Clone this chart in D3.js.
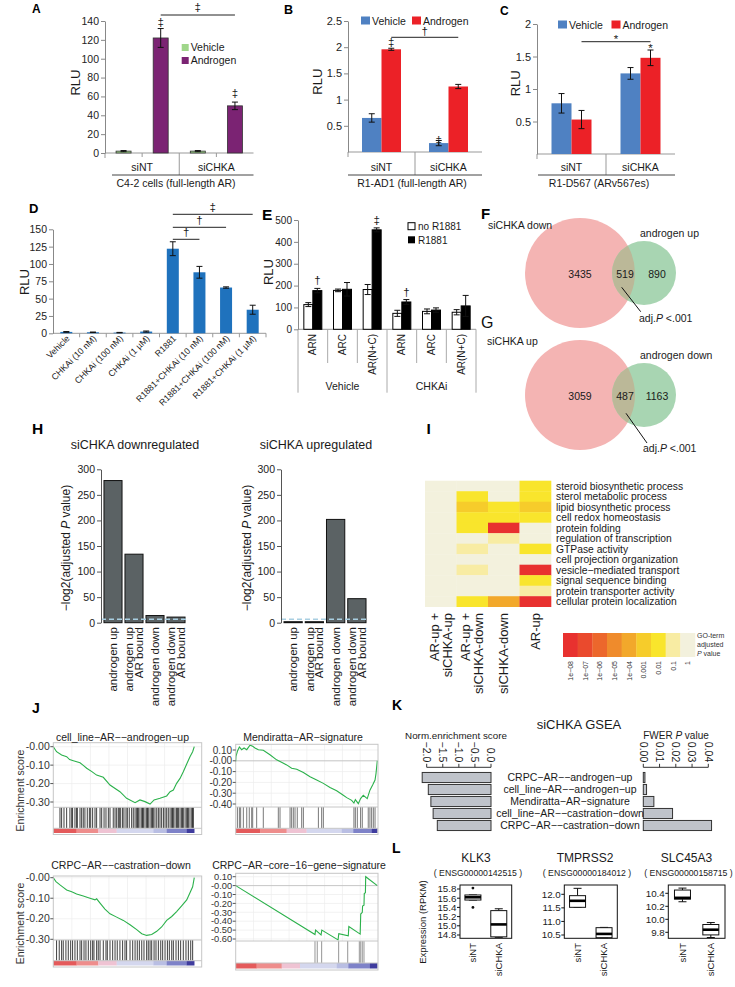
<!DOCTYPE html>
<html><head><meta charset="utf-8">
<script src="https://cdn.jsdelivr.net/npm/d3@7"></script>
<style>
body{margin:0;background:#fff;}
svg{display:block;font-family:"Liberation Sans",Arial,Helvetica,sans-serif;}
</style></head><body>
<svg id="fig" width="735" height="987"></svg>
<script>
// ===================== DATA =====================
// Panel A
const aGroups = ["siNT", "siCHKA"];
const aVehicle = [2, 2];
const aVehicleErr = [0.6, 0.6];
const aAndrogen = [122, 50];
const aAndrogenErr = [10, 4];
const aTicks = [0, 20, 40, 60, 80, 100, 120, 140];
// Panel B
const bGroups = ["siNT", "siCHKA"];
const bVehicle = [0.65, 0.17];
const bVehicleErr = [0.08, 0.05];
const bAndrogen = [1.96, 1.25];
const bAndrogenErr = [0.02, 0.04];
const bTicks = [0.5, 1, 1.5, 2, 2.5];
// Panel C
const cGroups = ["siNT", "siCHKA"];
const cVehicle = [0.78, 1.24];
const cVehicleErr = [0.15, 0.09];
const cAndrogen = [0.53, 1.48];
const cAndrogenErr = [0.14, 0.12];
const cTicks = [0.5, 1, 1.5, 2];
// Panel D
const dCategories = ["Vehicle", "CHKAi (10 nM)", "CHKAi (100 nM)", "CHKAi (1 µM)", "R1881",
  "R1881+CHKAi (10 nM)", "R1881+CHKAi (100 nM)", "R1881+CHKAi (1 µM)"];
const dValues = [2, 1.5, 1, 2.5, 122, 88, 66, 34];
const dErr = [0.5, 0.3, 0.3, 0.8, 10, 8.5, 1, 6.5];
const dTicks = [0, 25, 50, 75, 100, 125, 150];
// Panel E
const eTreatments = ["Vehicle", "CHKAi"];
const eConstructs = ["ARN", "ARC", "AR(N+C)"];
const eNoR1881 = [113, 178, 182, 73, 82, 78];
const eNoR1881Err = [9, 6, 23, 14, 11, 12];
const eR1881 = [177, 183, 455, 125, 88, 107];
const eR1881Err = [10, 31, 9, 11, 10, 48];
const eTicks = [0, 100, 200, 300, 400, 500];
// Panels F, G (Venn counts)
const vennF = {setA: "siCHKA down", setB: "androgen up", onlyA: 3435, both: 519, onlyB: 890};
const vennG = {setA: "siCHKA up", setB: "androgen down", onlyA: 3059, both: 487, onlyB: 1163};
// Panel H
const hCategories = [["androgen up"], ["androgen up", "AR bound"], ["androgen down"], ["androgen down", "AR bound"]];
const hDown = [278, 134, 14, 11];
const hUp = [0, 0, 202, 47];
const hThreshold = 6.64;
const hTicks = [0, 50, 100, 150, 200, 250, 300];
// Panel I
const iTerms = ["steroid biosynthetic process", "sterol metabolic process", "lipid biosynthetic process",
  "cell redox homeostasis", "protein folding", "regulation of transcription", "GTPase activity",
  "cell projection organization", "vesicle\u2212mediated transport", "signal sequence binding",
  "protein transporter activity", "cellular protein localization"];
const iColumns = [["AR-up +", "siCHKA-up"], ["AR-up +", "siCHKA-down"], ["siCHKA-down"], ["AR-up"]];
const iLevels = ["1e\u221208", "1e\u221207", "1e\u221206", "1e\u221205", "1e\u221204", "0.001", "0.01", "0.1", "1"];
const iMatrix = [ // index into iLevels (adjusted P bin), columns as iColumns
  [8, 8, 8, 6], [8, 6, 8, 6], [8, 5, 6, 5], [8, 6, 6, 6], [8, 6, 0, 8], [8, 8, 7, 8],
  [8, 7, 8, 6], [8, 8, 8, 8], [8, 7, 8, 0], [8, 8, 8, 6], [8, 8, 8, 7], [8, 6, 4, 0]];
// Panel J (rank % , enrichment score)
const jTitles = ["cell_line\u2212AR\u2212\u2212androgen\u2212up", "Mendiratta\u2212AR\u2212signature",
  "CRPC\u2212AR\u2212\u2212castration\u2212down", "CRPC\u2212AR\u2212core\u221216\u2212gene\u2212signature"];
const jCurve1 = [[0,0],[2.2,-0.027],[5.6,-0.045],[9,-0.054],[11,-0.07],[13.5,-0.076],[18,-0.087],[20,-0.1],[22.5,-0.117],[26,-0.135],[29.2,-0.154],[33.7,-0.166],[38.2,-0.208],[44.9,-0.244],[49.4,-0.28],[55.1,-0.304],[58.4,-0.289],[61.8,-0.298],[65.2,-0.311],[67.9,-0.289],[71.9,-0.28],[76.4,-0.267],[78.7,-0.244],[80.9,-0.235],[83.1,-0.199],[85.4,-0.172],[87.6,-0.136],[89.9,-0.094],[92.1,-0.054],[93.9,-0.027],[95,0]];
const jHits1 = [4.5,5.6,7.2,9,11.2,12.4,13,14.6,15.7,16.2,18,19.1,20.2,21.3,22.9,24.3,25.2,26.5,28.1,29.2,31.5,32.6,34.2,35.5,37.1,38.2,40.4,41.6,42.7,43.8,44.5,45.4,46.7,47.6,49,49.9,51.2,52.8,53.9,55.1,56.2,56.8,57.3,58.4,59.6,60.1,60.7,61.8,62.9,63.5,64,65.2,66.3,66.8,67.4,68.5,69.7,70.8,71.9,73,74.2,75.3,76.4,77.5,78.7,79.8,80.3,80.9,82,83.1,83.6,84.3,85.4,86.5,87,87.6,88.8,89.9,90.5,91,92.1,93.3,93.8,94.4];
const jCurve2 = [[0,-0.006],[0.2,0.04],[1.2,0.088],[2.6,0.128],[4.2,0.103],[5.9,0.119],[7.8,0.103],[10.1,0.144],[12,0.134],[13.6,0.119],[16,0.103],[19.5,0.097],[24.2,0.056],[28.9,0.009],[31.3,-0.006],[36,-0.038],[39.5,-0.069],[43.1,-0.078],[47.8,-0.109],[52.5,-0.147],[57.2,-0.178],[61.9,-0.209],[66.6,-0.247],[71.3,-0.278],[76,-0.319],[78.4,-0.341],[81.9,-0.366],[83.5,-0.391],[84.5,-0.359],[86.6,-0.397],[88.2,-0.35],[90.1,-0.319],[92.9,-0.35],[94.8,-0.272],[96.7,-0.225],[98.4,-0.178],[99.1,-0.116],[100,0]];
const jHits2 = [1.2,2.6,3.5,5.4,7.8,9.6,11.3,12,14.8,19.5,30.1,31.3,38.4,39.5,40.7,41.9,43.5,46.6,47.8,58.4,60.7,61.9,83.5,84.5,85.9,88.2,89.4,93.6,94.8,96,97.2,98.4];
const jCurve3 = [[0,0],[1.8,-0.019],[4.5,-0.035],[6.7,-0.047],[9,-0.06],[12.4,-0.068],[15.7,-0.079],[20.2,-0.089],[24.7,-0.1],[28.1,-0.108],[29.2,-0.103],[31.5,-0.124],[34.8,-0.153],[38.2,-0.176],[42.7,-0.192],[47.2,-0.208],[51.7,-0.229],[56.2,-0.253],[59.6,-0.273],[62.9,-0.281],[66.3,-0.277],[69.7,-0.261],[73,-0.24],[76.4,-0.208],[79.8,-0.189],[83.1,-0.165],[86.5,-0.137],[89.9,-0.108],[92.1,-0.073],[93.9,-0.044],[95,0]];
const jHits3 = [2.2,4,5.6,6.7,8.5,10.1,11.7,13,14.6,16.2,18,19.1,20.7,22,23.6,25.2,26.5,27.4,29.2,30.3,31.5,33.7,35.5,36.4,38.2,40,41.6,43.1,44.9,46.7,48.3,49.4,51.7,53.5,55.1,56.6,58,59.6,61.1,62.9,64,65.2,66.3,67.9,69.2,70.8,72.4,73.7,75.3,76.9,78.2,79.8,80.9,82.7,84.3,85.8,87.6,89.4,91,92.6,93.9];
const jCurve4 = [[0,0],[56,-0.55],[56.4,-0.5],[60.3,-0.555],[60.8,-0.5],[72.3,-0.61],[72.8,-0.54],[79.5,-0.565],[79.9,-0.46],[87.9,-0.545],[88.3,-0.32],[89.4,-0.3],[89.6,-0.23],[90.6,-0.22],[90.8,-0.09],[91.6,-0.08],[91.8,0.1],[100,0]];
const jHits4 = [56, 57.6, 60.7, 72.7, 79.1, 87.3, 88.3, 89.4, 90.6];
const jRankBreaks1 = [0, 15.7, 30.3, 42.7, 67.4, 76.4, 89.9, 95];
const jRankBreaks2 = [0, 17.2, 36, 50.1, 74.8, 83, 96, 100];
const jRankBreaks3 = [0, 15.7, 30.3, 42.7, 67.4, 76.4, 89.9, 95];
const jRankBreaks4 = [0, 14.8, 32.5, 45.4, 71.3, 79.5, 94.8, 100];
// Panel K
const kSets = ["CRPC\u2212AR\u2212\u2212androgen\u2212up", "cell_line\u2212AR\u2212\u2212androgen\u2212up",
  "Mendiratta\u2212AR\u2212signature", "cell_line\u2212AR\u2212\u2212castration\u2212down", "CRPC\u2212AR\u2212\u2212castration\u2212down"];
const kNES = [-2.14, -1.95, -1.87, -1.80, -1.67];
const kFWER = [0.001, 0.002, 0.0065, 0.018, 0.042];
const kNESTicks = [-2.0, -1.5, -1.0, -0.5, 0.0];
const kFWERTicks = [0.00, 0.01, 0.02, 0.03, 0.04];
// Panel L (box statistics, RPKM)
const lGenes = ["KLK3", "TMPRSS2", "SLC45A3"];
const lIds = ["( ENSG00000142515 )", "( ENSG00000184012 )", "( ENSG00000158715 )"];
const lGroups = ["siNT", "siCHKA"];
const lStats = [
  [{lo: 15.56, q1: 15.56, med: 15.62, q3: 15.67, hi: 15.67, out: [15.82, 15.40]},
   {lo: 14.75, q1: 14.76, med: 15.03, q3: 15.33, hi: 15.37, out: []}],
  [{lo: 11.52, q1: 11.52, med: 11.76, q3: 11.95, hi: 12.22, out: []},
   {lo: 10.40, q1: 10.40, med: 10.54, q3: 10.77, hi: 10.78, out: []}],
  [{lo: 10.27, q1: 10.31, med: 10.33, q3: 10.45, hi: 10.48, out: []},
   {lo: 9.72, q1: 9.76, med: 9.84, q3: 9.92, hi: 9.95, out: []}]];
const lTicks = [[14.8, 15.0, 15.2, 15.4, 15.6, 15.8], [10.5, 11.0, 11.5, 12.0], [9.8, 10.0, 10.2, 10.4]];

// ===================== DRAWING =====================
const svg = d3.select("#fig");
svg.append("rect").attr("width", 735).attr("height", 987).attr("fill", "#fff");

function txt(g, x, y, s, o = {}) {
  const t = g.append("text").attr("x", x).attr("y", y).text(s)
    .attr("font-size", o.size || 10).attr("fill", o.fill || "#1a1a1a")
    .attr("text-anchor", o.anchor || "start");
  if (o.weight) t.attr("font-weight", o.weight);
  if (o.style) t.attr("font-style", o.style);
  if (o.rotate != null) t.attr("transform", `rotate(${o.rotate},${x},${y})`);
  return t;
}
function line(g, x1, y1, x2, y2, color = "#111", w = 1) {
  return g.append("line").attr("x1", x1).attr("y1", y1).attr("x2", x2).attr("y2", y2)
    .attr("stroke", color).attr("stroke-width", w);
}
function errBar(g, x, y0, y1, cap = 6) {
  line(g, x, y0, x, y1, "#111", 1);
  line(g, x - cap / 2, y0, x + cap / 2, y0, "#111", 1);
  line(g, x - cap / 2, y1, x + cap / 2, y1, "#111", 1);
}
function styleAxis(ax, fs, color) {
  ax.attr("font-family", null).attr("font-size", null);
  ax.select(".domain").attr("stroke", color);
  ax.selectAll(".tick line").attr("stroke", color);
  ax.selectAll(".tick text").attr("font-size", fs).attr("fill", "#222");
}

// panel letters
const letters = [["A", 32, 13.3, 12], ["B", 284, 14, 12.5], ["C", 500, 15, 12], ["D", 29, 212.7, 13],
  ["E", 262, 219.5, 15.5], ["F", 481, 219, 15], ["H", 32, 434, 15.5], ["I", 426.5, 433.5, 15.5],
  ["J", 32, 713.3, 14], ["K", 392, 710, 14], ["L", 392, 853, 14]];
letters.forEach(([s, x, y, fs]) => txt(svg, x, y, s, {size: fs, weight: "bold", fill: "#000"}));
txt(svg, 481, 328.3, "G", {size: 16, fill: "#111"});

// ---------- grouped bar panels A, B, C ----------
function groupedPanel(c) {
  const g = svg.append("g");
  const y = d3.scaleLinear().domain(c.yDomain).range(c.yRange);
  const xg = d3.scaleBand().domain(c.groups).range([c.x0, c.x1]);
  const bw = xg.bandwidth();
  const names = c.series.map(s => s.name);
  let xs;
  if (c.adjacent) xs = d3.scaleBand().domain(names).range([bw / 2 - c.barW, bw / 2 + c.barW]);
  else {
    const p = 1 - c.barW / (bw / 2);
    xs = d3.scaleBand().domain(names).range([0, bw]).paddingInner(p).paddingOuter(p / 2);
  }
  const cx = (grp, name) => xg(grp) + xs(name) + xs.bandwidth() / 2;
  const base = y(0);
  line(g, c.x0, base, c.x1, base, "#999");
  line(g, c.x0, base, c.x0, base + 5, "#999");
  c.groups.forEach((grp, i) => {
    if (i > 0) line(g, xg(grp), base, xg(grp), 175, "#999");
    if (c.slotTicks) line(g, xg(grp) + bw / 2, base, xg(grp) + bw / 2, base + 4, "#999");
    txt(g, xg(grp) + bw / 2, 171, grp, {size: 10.5, anchor: "middle"});
  });
  line(g, c.ulX0, 175, c.x1, 175, "#444");
  txt(g, c.capX, 186.5, c.caption, {size: 10.5, anchor: "middle"});
  c.series.forEach(s => c.groups.forEach((grp, i) => {
    const v = s.values[i], e = s.err[i];
    g.append("rect").attr("x", cx(grp, s.name) - xs.bandwidth() / 2).attr("width", xs.bandwidth())
      .attr("y", y(v)).attr("height", base - y(v)).attr("fill", s.fill)
      .attr("stroke", c.barStroke || "none").attr("stroke-width", 0.8);
    errBar(g, cx(grp, s.name), y(Math.max(v - e, 0)), y(v + e), 6);
  }));
  const ax = g.append("g").attr("transform", `translate(${c.x0},0)`)
    .call(d3.axisLeft(y).tickValues(c.ticks).tickFormat(d => String(d)).tickSize(4).tickSizeOuter(0).tickPadding(2));
  styleAxis(ax, c.tickFs, "#888");
  txt(g, c.rlu[0], c.rlu[1], "RLU", {size: 13, anchor: "middle", rotate: -90});
  c.legend.forEach(l => {
    g.append("rect").attr("x", l.x).attr("y", l.y - l.h).attr("width", l.w).attr("height", l.h)
      .attr("fill", l.fill).attr("stroke", l.stroke || "none").attr("stroke-width", 0.6);
    txt(g, l.x + l.w + 2, l.y, l.label, {size: 10.5});
  });
  c.marks.forEach(m => {
    const s = c.series.find(d => d.name === m.series);
    const i = c.groups.indexOf(m.group);
    txt(g, cx(m.group, m.series), y(s.values[i] + s.err[i]) + m.dy, m.sym, {size: 11.5, anchor: "middle"});
  });
  c.brackets.forEach(b => {
    const xa = cx(b.from[0], b.from[1]), xb = cx(b.to[0], b.to[1]);
    line(g, xa, b.y, xb, b.y, "#222");
    txt(g, (xa + xb) / 2, b.y + b.dy, b.sym, {size: 11.5, anchor: "middle"});
  });
}

groupedPanel({
  groups: aGroups, yDomain: [0, 140], yRange: [153, 21], x0: 105, x1: 253.5, barW: 15, adjacent: false,
  slotTicks: true, barStroke: "#333", ticks: aTicks, tickFs: 10.5, rlu: [80, 82.5],
  series: [{name: "Vehicle", values: aVehicle, err: aVehicleErr, fill: "#9fd68a"},
           {name: "Androgen", values: aAndrogen, err: aAndrogenErr, fill: "#7b2373"}],
  ulX0: 112, capX: 176, caption: "C4-2 cells (full-length AR)",
  legend: [{x: 181.7, y: 51, w: 7, h: 7, fill: "#9fd68a", label: "Vehicle"},
           {x: 181.7, y: 64, w: 7, h: 7, fill: "#7b2373", label: "Androgen"}],
  marks: [{group: "siNT", series: "Androgen", sym: "\u2021", dy: -2.4},
          {group: "siCHKA", series: "Androgen", sym: "\u2021", dy: -5.5}],
  brackets: [{from: ["siNT", "Androgen"], to: ["siCHKA", "Androgen"], y: 15, sym: "\u2021", dy: -3.8}]
});
groupedPanel({
  groups: bGroups, yDomain: [0, 2.5], yRange: [152, 21], x0: 348, x1: 482, barW: 19.5, adjacent: true,
  slotTicks: false, ticks: bTicks, tickFs: 11, rlu: [322, 81.7],
  series: [{name: "Vehicle", values: bVehicle, err: bVehicleErr, fill: "#4f81c2"},
           {name: "Androgen", values: bAndrogen, err: bAndrogenErr, fill: "#ec2127"}],
  ulX0: 348, capX: 412, caption: "R1-AD1 (full-length AR)",
  legend: [{x: 361, y: 24.5, w: 9, h: 8, fill: "#4f81c2", label: "Vehicle"},
           {x: 412, y: 24.5, w: 9, h: 8, fill: "#ec2127", label: "Androgen"}],
  marks: [{group: "siNT", series: "Androgen", sym: "\u2021", dy: -2},
          {group: "siCHKA", series: "Vehicle", sym: "\u2021", dy: 4}],
  brackets: [{from: ["siNT", "Androgen"], to: ["siCHKA", "Androgen"], y: 37.3, sym: "\u2020", dy: -2.7}]
});
groupedPanel({
  groups: cGroups, yDomain: [0, 2], yRange: [154, 24], x0: 537, x1: 675, barW: 20, adjacent: true,
  slotTicks: false, ticks: cTicks, tickFs: 11, rlu: [520, 83.3],
  series: [{name: "Vehicle", values: cVehicle, err: cVehicleErr, fill: "#4f81c2"},
           {name: "Androgen", values: cAndrogen, err: cAndrogenErr, fill: "#ec2127"}],
  ulX0: 538, capX: 599, caption: "R1-D567 (ARv567es)",
  legend: [{x: 558, y: 28.5, w: 9, h: 8, fill: "#4f81c2", label: "Vehicle"},
           {x: 611.5, y: 28.5, w: 9, h: 8, fill: "#ec2127", label: "Androgen"}],
  marks: [{group: "siCHKA", series: "Androgen", sym: "*", dy: 1.6}],
  brackets: [{from: ["siNT", "Androgen"], to: ["siCHKA", "Androgen"], y: 41.7, sym: "*", dy: 1.6}]
});

// ---------- Panel D ----------
{
  const g = svg.append("g");
  const y = d3.scaleLinear().domain([0, 150]).range([333.3, 229.3]);
  const x = d3.scaleBand().domain(dCategories).range([53, 266]);
  const base = y(0);
  line(g, 53, base, 266, base, "#999");
  dCategories.forEach((c, i) => {
    line(g, x(c) + x.bandwidth(), base, x(c) + x.bandwidth(), base + 4, "#999");
    const cx = x(c) + x.bandwidth() / 2;
    g.append("rect").attr("x", cx - 6).attr("width", 12).attr("y", y(dValues[i]))
      .attr("height", base - y(dValues[i])).attr("fill", "#1f72bd");
    errBar(g, cx, y(Math.max(dValues[i] - dErr[i], 0)), y(dValues[i] + dErr[i]), 6);
    txt(g, cx + 4, 339, c, {size: 8.8, anchor: "end", rotate: -45});
  });
  const ax = g.append("g").attr("transform", "translate(53,0)")
    .call(d3.axisLeft(y).tickValues(dTicks).tickSize(4).tickSizeOuter(0).tickPadding(2));
  styleAxis(ax, 10.5, "#888");
  txt(g, 29, 282, "RLU", {size: 13, anchor: "middle", rotate: -90});
  const cxOf = i => x(dCategories[i]) + x.bandwidth() / 2;
  [[5, 239.3, "\u2020"], [6, 227.3, "\u2020"], [7, 214.3, "\u2021"]].forEach(([j, yy, s]) => {
    line(g, cxOf(4), yy, cxOf(j), yy, "#222");
    txt(g, (cxOf(4) + cxOf(j)) / 2, yy - 3.3, s, {size: 11.5, anchor: "middle"});
  });
}

// ---------- Panel E ----------
{
  const g = svg.append("g");
  const y = d3.scaleLinear().domain([0, 500]).range([329.3, 220]);
  const xt = d3.scaleBand().domain(eTreatments).range([298, 476]);
  const xc = d3.scaleBand().domain(eConstructs).range([0, xt.bandwidth()]);
  const xs = d3.scaleBand().domain(["no", "yes"]).range([xc.bandwidth() / 2 - 9, xc.bandwidth() / 2 + 9]);
  const base = y(0);
  line(g, 298, base, 476, base, "#999");
  eTreatments.forEach((t, ti) => {
    line(g, xt(t), base, xt(t), 392.7, "#aaa");
    txt(g, xt(t) + xt.bandwidth() / 2, 390, t, {size: 10.5, anchor: "middle"});
    eConstructs.forEach((c, ci) => {
      const x0 = xt(t) + xc(c);
      if (ci > 0) line(g, x0, base, x0, 363, "#aaa");
      const cx = x0 + xc.bandwidth() / 2;
      txt(g, cx + 3.5, 334, c, {size: 10, anchor: "end", rotate: -90});
      const i = ti * 3 + ci;
      [["no", eNoR1881, eNoR1881Err, "#fff"], ["yes", eR1881, eR1881Err, "#000"]].forEach(([k, v, e, f]) => {
        const bx = x0 + xs(k);
        g.append("rect").attr("x", bx).attr("width", xs.bandwidth()).attr("y", y(v[i]))
          .attr("height", base - y(v[i])).attr("fill", f).attr("stroke", "#000").attr("stroke-width", 1);
        errBar(g, bx + xs.bandwidth() / 2, y(v[i] - e[i]), y(v[i] + e[i]), 6);
      });
    });
  });
  line(g, 476, base, 476, 392.7, "#aaa");
  const ax = g.append("g").attr("transform", "translate(298,0)")
    .call(d3.axisLeft(y).tickValues(eTicks).tickSize(4).tickSizeOuter(0).tickPadding(2));
  styleAxis(ax, 10, "#888");
  txt(g, 273, 272, "RLU", {size: 13, anchor: "middle", rotate: -90});
  g.append("rect").attr("x", 408).attr("y", 222.7).attr("width", 7).attr("height", 7).attr("fill", "#fff").attr("stroke", "#000");
  txt(g, 418, 230, "no R1881", {size: 10});
  g.append("rect").attr("x", 408).attr("y", 236.3).attr("width", 7).attr("height", 7).attr("fill", "#000");
  txt(g, 418, 243.5, "R1881", {size: 10});
  [[0, "\u2020"], [2, "\u2021"], [3, "\u2020"]].forEach(([i, s]) => {
    const t = eTreatments[Math.floor(i / 3)], c = eConstructs[i % 3];
    const cx = xt(t) + xc(c) + xs("yes") + xs.bandwidth() / 2;
    txt(g, cx, y(eR1881[i] + eR1881Err[i]) - 4, s, {size: 11.5, anchor: "middle"});
  });
}

// ---------- Panels F, G (Venn) ----------
function venn(d, c) {
  const g = svg.append("g");
  const id = "clip" + c.id;
  g.append("clipPath").attr("id", id).append("circle").attr("cx", c.bx).attr("cy", c.cy).attr("r", c.br);
  g.append("circle").attr("cx", c.bx).attr("cy", c.cy).attr("r", c.br).attr("fill", "#f4b4b3");
  g.append("circle").attr("cx", c.sx).attr("cy", c.cy).attr("r", c.sr).attr("fill", "#a8d5b2");
  g.append("circle").attr("cx", c.sx).attr("cy", c.cy).attr("r", c.sr).attr("fill", "#bbb898")
    .attr("clip-path", `url(#${id})`);
  txt(g, 580, c.cy + 5, d.onlyA, {size: 10.5, anchor: "middle"});
  txt(g, 625, c.cy + 5, d.both, {size: 10.5, anchor: "middle"});
  txt(g, 657, c.cy + 5, d.onlyB, {size: 10.5, anchor: "middle"});
  txt(g, c.labAx, c.labAy, d.setA, {size: 10.5});
  txt(g, 640, c.labBy, d.setB, {size: 10.5});
  line(g, c.p[0], c.p[1], c.p[2], c.p[3], "#111", 1);
  const t = txt(g, c.pt[0], c.pt[1], "", {size: 10.5});
  t.append("tspan").text("adj.");
  t.append("tspan").attr("font-style", "italic").text("P");
  t.append("tspan").text(" <.001");
}
venn(vennF, {id: "F", bx: 580, sx: 644, cy: 273, br: 55, sr: 32, labAx: 488, labAy: 229, labBy: 237,
  p: [621.7, 287.3, 640.7, 311.7], pt: [639, 322]});
venn(vennG, {id: "G", bx: 580, sx: 644, cy: 395, br: 55, sr: 32, labAx: 487, labAy: 345, labBy: 359,
  p: [626, 413.3, 647, 443], pt: [643, 452]});

// ---------- Panel H ----------
function hPanel(c) {
  const g = svg.append("g");
  const y = d3.scaleLinear().domain([0, 300]).range([622.7, 469.3]);
  const x = d3.scaleBand().domain(d3.range(hCategories.length)).range([c.bx0, c.bx1]).paddingInner(0.14).paddingOuter(0.07);
  c.values.forEach((v, i) => {
    const h = Math.max(y(0) - y(v), 1);
    g.append("rect").attr("x", x(i)).attr("width", x.bandwidth()).attr("y", y(0) - h).attr("height", h)
      .attr("fill", "#5b6264").attr("stroke", "#111").attr("stroke-width", 1);
    const lines = hCategories[i];
    lines.forEach((l, k) => {
      const xx = x(i) + x.bandwidth() / 2 + (k - (lines.length - 1) / 2) * 9.5 + 4;
      txt(g, xx, 627, l, {size: 11.5, anchor: "end", rotate: -90});
    });
  });
  g.append("line").attr("x1", c.ax).attr("x2", c.bx1 + 1).attr("y1", y(hThreshold)).attr("y2", y(hThreshold))
    .attr("stroke", "#a9cfe2").attr("stroke-width", 1.6).attr("stroke-dasharray", "5,3");
  const ax = g.append("g").attr("transform", `translate(${c.ax},0)`)
    .call(d3.axisLeft(y).tickValues(hTicks).tickSize(4).tickSizeOuter(0).tickPadding(2));
  styleAxis(ax, 10.5, "#555");
  txt(g, c.titleX, 449, c.title, {size: 12.5, anchor: "middle"});
  const t = txt(g, c.ylx, 548, "", {size: 12, anchor: "middle", rotate: -90});
  t.append("tspan").text("\u2212log2(adjusted ");
  t.append("tspan").attr("font-style", "italic").text("P");
  t.append("tspan").text(" value)");
}
hPanel({values: hDown, ax: 101, bx0: 102.5, bx1: 186.5, title: "siCHKA downregulated", titleX: 135, ylx: 70});
hPanel({values: hUp, ax: 281, bx0: 282.5, bx1: 367.5, title: "siCHKA upregulated", titleX: 316, ylx: 251});

// ---------- Panel I ----------
{
  const g = svg.append("g");
  const colors = ["#e8312f", "#ea4a2d", "#ec672c", "#ef8b2c", "#f2a82b", "#f6cc2b", "#f9e52c", "#f8eca3", "#f3f1dd"];
  const color = d3.scaleOrdinal().domain(iLevels).range(colors);
  const yr = d3.scaleBand().domain(iTerms).range([480.7, 606.7]);
  const xc = d3.scaleBand().domain(d3.range(iColumns.length)).range([425, 551]);
  iTerms.forEach((term, r) => {
    iMatrix[r].forEach((lvl, ci) => {
      g.append("rect").attr("x", xc(ci)).attr("y", yr(term)).attr("width", xc.bandwidth() + 0.3)
        .attr("height", yr.bandwidth() + 0.3).attr("fill", color(iLevels[lvl]));
    });
    txt(g, 556, yr(term) + yr.bandwidth() / 2 + 3.6, term, {size: 10.3});
  });
  iColumns.forEach((lines, ci) => {
    lines.forEach((l, k) => {
      const xx = xc(ci) + xc.bandwidth() / 2 + (k - (lines.length - 1) / 2) * 13 + 4.5;
      txt(g, xx, 613, l, {size: 13, anchor: "end", rotate: -90});
    });
  });
  const xl = d3.scaleBand().domain(iLevels).range([563, 695]);
  iLevels.forEach(l => {
    g.append("rect").attr("x", xl(l)).attr("y", 633).attr("width", xl.bandwidth() + 0.3).attr("height", 24).attr("fill", color(l));
    txt(g, xl(l) + xl.bandwidth() / 2 + 2.5, 661, l, {size: 7, anchor: "end", rotate: -90, fill: "#333"});
  });
  txt(g, 697, 638, "GO-term", {size: 7, fill: "#333"});
  txt(g, 697, 647, "adjusted", {size: 7, fill: "#333"});
  const t = txt(g, 697, 656, "", {size: 7, fill: "#333"});
  t.append("tspan").attr("font-style", "italic").text("P");
  t.append("tspan").text(" value");
}

// ---------- Panel J (GSEA) ----------
const rankColors = ["#e45a5b", "#ee8d8c", "#efc3d3", "#d4d7ee", "#b9bee3", "#7e82c8", "#3f3c9e"];
function gsea(c) {
  const g = svg.append("g");
  const x = d3.scaleLinear().domain([0, 100]).range([c.x0, c.x1]);
  const y = d3.scaleLinear().domain(c.yDom).range(c.yRange);
  const W = c.fx1 - c.x0;
  for (let k = 1; k < 8; k++) line(g, c.x0 + W * k / 8, c.top, c.x0 + W * k / 8, c.esBottom, "#ececec", 0.7);
  c.ticks.forEach(t => line(g, c.x0, y(t), c.fx1, y(t), "#ececec", 0.7));
  if (c.zero) line(g, c.x0, y(0), c.fx1, y(0), "#bdbdbd", 0.8);
  g.append("path").datum(c.curve).attr("d", d3.line().x(d => x(d[0])).y(d => y(d[1])))
    .attr("fill", "none").attr("stroke", "#2bb14b").attr("stroke-width", 1.1);
  c.hits.forEach(h => line(g, x(h), c.esBottom, x(h), c.stripBottom, c.hitColor, 0.9));
  for (let k = 0; k < rankColors.length; k++) {
    g.append("rect").attr("x", x(c.breaks[k])).attr("y", c.stripBottom)
      .attr("width", x(c.breaks[k + 1]) - x(c.breaks[k]) + 0.2).attr("height", c.bottom - 1.5 - c.stripBottom)
      .attr("fill", rankColors[k]);
  }
  g.append("rect").attr("x", c.x0).attr("y", c.top).attr("width", W).attr("height", c.bottom - c.top)
    .attr("fill", "none").attr("stroke", "#c6c6c6").attr("stroke-width", 1);
  line(g, c.x0, c.esBottom, c.fx1, c.esBottom, "#c6c6c6");
  line(g, c.x0, c.stripBottom, c.fx1, c.stripBottom, "#c6c6c6");
  const fmt = d => (d <= 0 ? "-" : "") + Math.abs(d).toFixed(2);
  c.ticks.forEach(t => {
    line(g, c.x0 - 3, y(t), c.x0, y(t), "#555");
    txt(g, c.x0 - 3.5, y(t) + c.tickFs * 0.35, fmt(t), {size: c.tickFs, anchor: "end", fill: "#333"});
  });
  txt(g, c.titleX, c.titleY, c.title, {size: 10.5, anchor: "middle", fill: "#222"});
  if (c.ylab) txt(g, 24, (c.top + c.bottom) / 2 + 2, "Enrichment score", {size: 10.5, anchor: "middle", rotate: -90, fill: "#333"});
}
gsea({x0: 53.3, x1: 201.7, fx1: 201.7, top: 742.7, esBottom: 807.3, stripBottom: 828.3, bottom: 834.5,
  yDom: [0, -0.3], yRange: [746.7, 802], ticks: [0, -0.1, -0.2, -0.3], tickFs: 10.5, zero: false, curve: jCurve1,
  hits: jHits1, hitColor: "#2a2a2a", breaks: jRankBreaks1, title: jTitles[0], titleX: 122.5, titleY: 740.5, ylab: true});
gsea({x0: 235.7, x1: 377.3, fx1: 378, top: 744.3, esBottom: 807, stripBottom: 828.3, bottom: 834.5,
  yDom: [0.1, -0.4], yRange: [750, 804], ticks: [0.1, 0, -0.1, -0.2, -0.3, -0.4], tickFs: 10, zero: true, curve: jCurve2,
  hits: jHits2, hitColor: "#6a6a6a", breaks: jRankBreaks2, title: jTitles[1], titleX: 303, titleY: 740.5, ylab: false});
gsea({x0: 53.3, x1: 201.7, fx1: 201.7, top: 876, esBottom: 940, stripBottom: 960.7, bottom: 967,
  yDom: [0, -0.3], yRange: [877.7, 939.3], ticks: [0, -0.1, -0.2, -0.3], tickFs: 10.5, zero: false, curve: jCurve3,
  hits: jHits3, hitColor: "#2a2a2a", breaks: jRankBreaks3, title: jTitles[2], titleX: 121, titleY: 869, ylab: true});
gsea({x0: 235.7, x1: 377.3, fx1: 378, top: 873.3, esBottom: 941, stripBottom: 963, bottom: 970,
  yDom: [0.1, -0.6], yRange: [876.7, 939], ticks: [0.1, 0, -0.1, -0.2, -0.3, -0.4, -0.5, -0.6], tickFs: 9.3, zero: true, curve: jCurve4,
  hits: jHits4, hitColor: "#8a8a8a", breaks: jRankBreaks4, title: jTitles[3], titleX: 299, titleY: 869, ylab: false});

// ---------- Panel K ----------
{
  const g = svg.append("g");
  const yb = d3.scaleBand().domain(kSets).range([771.5, 831.5]).paddingInner(0.16).paddingOuter(0.08);
  const xn = d3.scaleLinear().domain([-2, 0]).range([426.7, 491]);
  const xf = d3.scaleLinear().domain([0, 0.04]).range([643.3, 708.3]);
  kSets.forEach((s, i) => {
    g.append("rect").attr("x", xn(kNES[i])).attr("y", yb(s)).attr("width", xn(0) - xn(kNES[i])).attr("height", yb.bandwidth())
      .attr("fill", "#bfc3ca").attr("stroke", "#333").attr("stroke-width", 1);
    g.append("rect").attr("x", xf(0)).attr("y", yb(s)).attr("width", xf(kFWER[i]) - xf(0)).attr("height", yb.bandwidth())
      .attr("fill", "#bfc3ca").attr("stroke", "#333").attr("stroke-width", 1);
    txt(g, 570, yb(s) + yb.bandwidth() / 2 + 3.8, s, {size: 10.5, anchor: "middle"});
  });
  const axisY = 767.3;
  line(g, xn(-2), axisY, xn(0), axisY, "#333");
  kNESTicks.forEach(t => {
    line(g, xn(t), axisY, xn(t), axisY - 3.5, "#333");
    txt(g, xn(t) - 3.6, axisY - 5, (t < 0 ? "\u2212" : "") + Math.abs(t).toFixed(1), {size: 10.5, anchor: "end", rotate: 90});
  });
  line(g, xf(0), axisY, xf(0.04), axisY, "#333");
  kFWERTicks.forEach(t => {
    line(g, xf(t), axisY, xf(t), axisY - 3.5, "#333");
    txt(g, xf(t) - 3.6, axisY - 5, t.toFixed(2), {size: 10.5, anchor: "end", rotate: 90});
  });
  txt(g, 579, 729, "siCHKA GSEA", {size: 13, anchor: "middle"});
  txt(g, 456, 738.5, "Norm.enrichment score", {size: 9.8, anchor: "middle"});
  const t = txt(g, 676, 738.5, "", {size: 10, anchor: "middle"});
  t.append("tspan").text("FWER ");
  t.append("tspan").attr("font-style", "italic").text("P");
  t.append("tspan").text(" value");
}

// ---------- Panel L ----------
{
  const g = svg.append("g");
  const frames = [[460, 511.7, [14.8, 15.8], [935, 889]], [564.3, 617.3, [10.5, 12.0], [935, 894.3]], [668.3, 725, [9.8, 10.4], [932.3, 893.3]]];
  const idX = [478, 587, 688.5];
  lGenes.forEach((gene, gi) => {
    const [fx0, fx1, dom, rng] = frames[gi];
    const y = d3.scaleLinear().domain(dom).range(rng);
    const x = d3.scalePoint().domain(lGroups).range([fx0, fx1]).padding(0.5);
    txt(g, idX[gi] - 2, 862, gene, {size: 12, anchor: "middle"});
    txt(g, idX[gi], 875.5, lIds[gi], {size: 8.7, anchor: "middle"});
    lStats[gi].forEach((s, k) => {
      const cx = x(lGroups[k]), bw = 16;
      line(g, cx, y(s.hi), cx, y(s.q3), "#111");
      line(g, cx, y(s.q1), cx, y(s.lo), "#111");
      line(g, cx - bw / 4, y(s.hi), cx + bw / 4, y(s.hi), "#111");
      line(g, cx - bw / 4, y(s.lo), cx + bw / 4, y(s.lo), "#111");
      g.append("rect").attr("x", cx - bw / 2).attr("y", y(s.q3)).attr("width", bw).attr("height", Math.max(y(s.q1) - y(s.q3), 0.5))
        .attr("fill", "#fff").attr("stroke", "#111").attr("stroke-width", 1);
      line(g, cx - bw / 2, y(s.med), cx + bw / 2, y(s.med), "#000", 2.6);
      s.out.forEach(o => g.append("circle").attr("cx", cx).attr("cy", y(o)).attr("r", 1.4).attr("fill", "#111"));
      txt(g, cx + 3.3, 943, lGroups[k], {size: 9.5, anchor: "end", rotate: -90});
    });
    g.append("rect").attr("x", fx0).attr("y", 885).attr("width", fx1 - fx0).attr("height", 53.3)
      .attr("fill", "none").attr("stroke", "#111").attr("stroke-width", 1);
    lTicks[gi].forEach(t => {
      line(g, fx0 - 3, y(t), fx0, y(t), "#111");
      txt(g, fx0 - 3.5, y(t) + 3.4, t.toFixed(1), {size: 9.8, anchor: "end"});
    });
  });
  txt(g, 426, 922, "Expression (RPKM)", {size: 9.5, anchor: "middle", rotate: -90});
}
</script></body></html>
